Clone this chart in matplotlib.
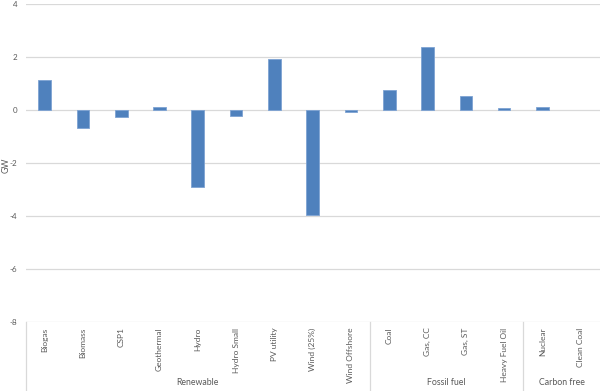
import matplotlib
matplotlib.use("Agg")
import matplotlib.pyplot as plt
from matplotlib.transforms import blended_transform_factory
from matplotlib.lines import Line2D

categories = ["Biogas", "Biomass", "CSP1", "Geothermal", "Hydro", "Hydro Small",
              "PV utility", "Wind (25%)", "Wind Offshore",
              "Coal", "Gas, CC", "Gas, ST", "Heavy Fuel Oil",
              "Nuclear", "Clean Coal"]
values = [1.12, -0.69, -0.27, 0.12, -2.91, -0.24, 1.92, -3.95, -0.08,
          0.77, 2.36, 0.54, 0.07, 0.13, 0.0]
groups = ["Renewable", "Fossil fuel", "Carbon free"]
group_sizes = [9, 4, 2]
yticks = [4, 2, 0, -2, -4, -6, -8]

plt.rcParams['font.family'] = ['Lato', 'DejaVu Sans']
fig = plt.figure(figsize=(6.02, 3.91), dpi=100)
ax = fig.add_axes([0.0424, 0.1765, 0.954, 0.8133])

x = list(range(len(categories)))
edgecols = ["#7ea3d3" if v != 0 else "none" for v in values]
ax.bar(x, values, width=0.33, color="#4f81bd", edgecolor=edgecols, linewidth=0.6, zorder=3)

ax.set_xlim(-0.5, len(categories) - 0.5)
ax.set_ylim(-8, 4)
ax.set_yticks(yticks)
ax.set_yticklabels([str(t) for t in yticks], fontsize=5.8, color="#595959")
ax.tick_params(axis='y', length=0, pad=6)
ax.grid(axis='y', color="#d9d9d9", linewidth=0.9, zorder=0)
for s in ax.spines.values():
    s.set_visible(False)

ax.set_xticks(x)
ax.set_xticklabels(categories, rotation=90, fontsize=6.0, color="#595959", va='top')
ax.tick_params(axis='x', length=0, pad=4)
fig.text(0.003, 0.578, "GW", rotation=90, ha='left', va='center',
         fontsize=6.3, color="#595959")

# category axis frame lines
tr = blended_transform_factory(ax.transData, fig.transFigure)
ybot_ax = 0.1765
edges = [-0.5]
acc = -0.5
for gs in group_sizes:
    acc += gs
    edges.append(acc)
for e in edges[:-1]:
    fig.add_artist(Line2D([e, e], [0.0, ybot_ax], transform=tr, color="#d9d9d9", linewidth=0.9))

start = -0.5
for g, gs in zip(groups, group_sizes):
    ax.text(start + gs / 2, 0.01, g, transform=tr, ha='center', va='bottom',
            fontsize=6.3, color="#595959")
    start += gs

fig.savefig("out.png", dpi=100)
